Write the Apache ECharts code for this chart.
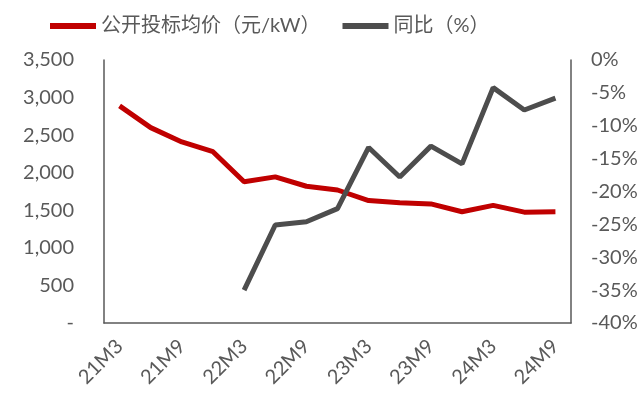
<!DOCTYPE html>
<html>
<head>
<meta charset="utf-8">
<script src="https://cdn.jsdelivr.net/npm/echarts@6/dist/echarts.min.js"></script>
<style>
  html, body { margin: 0; padding: 0; background: #fff; }
  #main { width: 644px; height: 401px; }
</style>
</head>
<body>
<div id="main"></div>
<script>
// 季度数据
var quarters = ['21M3', '21M6', '21M9', '21M12', '22M3', '22M6', '22M9', '22M12',
                '23M3', '23M6', '23M9', '23M12', '24M3', '24M6', '24M9'];
var bidPrice = [2890, 2600, 2410, 2280, 1880, 1945, 1820, 1770, 1630, 1600, 1585, 1480, 1565, 1475, 1480];
var yoy = [null, null, null, null, -35.0, -25.1, -24.6, -22.6, -13.3, -17.8, -13.1, -15.8, -4.2, -7.6, -5.8];

var textColor = '#595959';
var fontFam = 'Lato, "Noto Sans CJK SC", sans-serif';

var chart = echarts.init(document.getElementById('main'));
var option = {
    animation: false,
    textStyle: { fontFamily: fontFam },
    legend: {
        top: 11,
        left: 45,
        itemWidth: 46,
        itemHeight: 6,
        itemGap: 22,
        icon: 'rect',
        textStyle: { fontSize: 20, color: textColor, fontFamily: fontFam },
        data: ['公开投标均价（元/kW）', '同比（%）']
    },
    grid: {
        left: 104,
        right: 73,
        top: 60,
        bottom: 78
    },
    xAxis: {
        type: 'category',
        data: quarters,
        boundaryGap: true,
        axisLine: { lineStyle: { color: textColor, width: 1.5 } },
        axisTick: { show: false },
        axisLabel: {
            interval: 1,
            rotate: 45,
            color: textColor,
            fontSize: 20,
            margin: 20
        }
    },
    yAxis: [
        {
            type: 'value',
            min: 0,
            max: 3500,
            interval: 500,
            splitLine: { show: false },
            axisLine: { show: true, lineStyle: { color: textColor, width: 1.5 } },
            axisTick: { show: false },
            axisLabel: {
                color: textColor,
                fontSize: 20,
                margin: 30,
                formatter: function (v) {
                    return v === 0 ? '-' : v.toLocaleString('en-US');
                }
            }
        },
        {
            type: 'value',
            min: -40,
            max: 0,
            interval: 5,
            splitLine: { show: false },
            axisLine: { show: true, lineStyle: { color: textColor, width: 1.5 } },
            axisTick: { show: false },
            axisLabel: {
                color: textColor,
                fontSize: 20,
                margin: 20,
                formatter: '{value}%'
            }
        }
    ],
    series: [
        {
            name: '公开投标均价（元/kW）',
            type: 'line',
            yAxisIndex: 0,
            data: bidPrice,
            symbol: 'none',
            itemStyle: { color: '#C00000' },
            lineStyle: { color: '#C00000', width: 5 }
        },
        {
            name: '同比（%）',
            type: 'line',
            yAxisIndex: 1,
            data: yoy,
            symbol: 'none',
            itemStyle: { color: '#4D4D4D' },
            lineStyle: { color: '#4D4D4D', width: 5 }
        }
    ]
};
chart.setOption(option);
</script>
</body>
</html>
